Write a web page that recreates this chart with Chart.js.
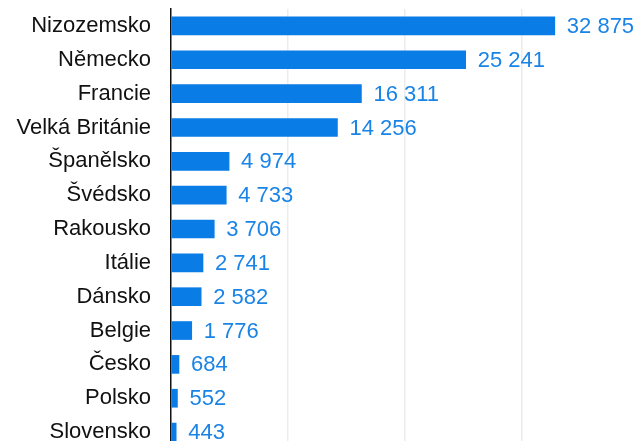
<!DOCTYPE html>
<html>
<head>
<meta charset="utf-8">
<script src="https://cdn.jsdelivr.net/npm/chart.js@4"></script>
<style>
  html, body { margin: 0; padding: 0; overflow: hidden; background: #fff; }
  #wrap { width: 638px; height: 450px; }
</style>
</head>
<body>
<div id="wrap"><canvas id="chart"></canvas></div>
<script>
const countries = ["Nizozemsko", "Německo", "Francie", "Velká Británie", "Španělsko", "Švédsko",
  "Rakousko", "Itálie", "Dánsko", "Belgie", "Česko", "Polsko", "Slovensko"];
const values = [32875, 25241, 16311, 14256, 4974, 4733, 3706, 2741, 2582, 1776, 684, 552, 443];
const xTicks = [0, 10000, 20000, 30000, 40000];

// czech style thousands: "32 875"
function fmt(v) {
  return String(v).replace(/\B(?=(\d{3})+(?!\d))/g, " ");
}

// draws the value after each bar
const valueLabels = {
  id: 'valueLabels',
  afterDatasetsDraw(chart) {
    const c = chart.ctx;
    const meta = chart.getDatasetMeta(0);
    c.save();
    c.font = '22px "Liberation Sans", Arial, sans-serif';
    c.fillStyle = '#1a84e6';
    c.textAlign = 'left';
    c.textBaseline = 'middle';
    meta.data.forEach((bar, i) => {
      c.fillText(fmt(values[i]), bar.x + 12, bar.y + 1);
    });
    c.restore();
  }
};

const ctx = document.getElementById('chart').getContext('2d');
const chart = new Chart(ctx, {
  type: 'bar',
  data: {
    labels: countries,
    datasets: [{
      data: values,
      backgroundColor: '#0a7ce6',
      barThickness: 18
    }]
  },
  options: {
    indexAxis: 'y',
    responsive: true,
    maintainAspectRatio: false,
    animation: false,
    layout: { padding: { top: 9, bottom: 1, left: 0, right: 0 } },
    plugins: {
      legend: { display: false },
      tooltip: { enabled: false }
    },
    scales: {
      x: {
        min: 0,
        max: 40000,
        afterBuildTicks: (scale) => { scale.ticks = xTicks.map(v => ({ value: v })); },
        afterFit: (scale) => { scale.height = 0; scale.paddingLeft = 0; scale.paddingRight = 0; },
        ticks: { display: false },
        grid: {
          drawTicks: false,
          color: (c) => (c.tick && (c.tick.value === 0 || c.tick.value === 40000)) ? 'rgba(0,0,0,0)' : '#ececec',
          lineWidth: 1.5
        },
        border: { display: false }
      },
      y: {
        afterFit: (scale) => { scale.width = 171; scale.paddingTop = 0; scale.paddingBottom = 0; },
        ticks: {
          color: '#111',
          padding: 20,
          font: { family: '"Liberation Sans", Arial, sans-serif', size: 22 }
        },
        grid: { display: false, drawTicks: false },
        border: { display: true, color: '#111', width: 1.5 }
      }
    }
  },
  plugins: [valueLabels]
});
</script>
</body>
</html>
